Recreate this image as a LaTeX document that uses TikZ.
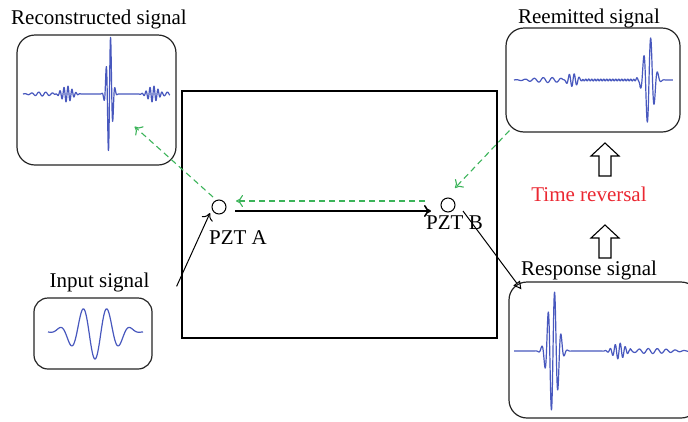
\documentclass[tikz,border=0pt]{standalone}
\usepackage{fontspec}
\setmainfont{Liberation Serif}
\usetikzlibrary{arrows.meta}
\definecolor{sigblue}{RGB}{72,88,190}
\definecolor{dgreen}{RGB}{60,180,90}
\definecolor{trred}{RGB}{235,40,50}
\begin{document}
\begin{tikzpicture}[x=1pt,y=-1pt,
  declare function={gw(\t,\s)=exp(-min((\t/\s)^2,20));
                    bu(\t,\p,\s)=sin((360/\p)*\t)*gw(\t,\s);},
  sigbox/.style={draw=black!85,line width=1.2pt,rounded corners=18pt,inner sep=0pt},
  sig/.style={sigblue,line width=1.2pt,line join=round},
  lbl/.style={font=\fontsize{21}{24}\selectfont,anchor=base,inner sep=0pt},
  pzt/.style={circle,draw,line width=1pt,minimum size=14pt,inner sep=0pt},
  blk/.style={line width=1pt,-{To[length=7pt,width=12pt]}},
  grn/.style={dgreen,line width=1.1pt,dash pattern=on 6pt off 4pt,-{To[length=7pt,width=12pt]}},
  blockarrow/.style={draw,line width=1.1pt,fill=white}]
\clip (0,0) rectangle (688,421);
\fill[white] (0,0) rectangle (688,421);
% main plate
\node[draw,line width=1.2pt,minimum width=315pt,minimum height=247pt,inner sep=0pt] (plate) at (339.5,214.5) {};
% signal boxes
\node[sigbox,minimum width=159pt,minimum height=130pt] (rec) at (96.5,100) {};
\node[sigbox,minimum width=174pt,minimum height=104pt] (rem) at (593,80) {};
\node[sigbox,minimum width=190pt,minimum height=136pt] (resp) at (604,350) {};
\node[sigbox,minimum width=118pt,minimum height=71pt,rounded corners=14pt] (inp) at (93,333.5) {};
% titles
\node[lbl] (recT) at (99,24) {Reconstructed signal};
\node[lbl] (remT) at (589,23) {Reemitted signal};
\node[lbl] (respT) at (589,275) {Response signal};
\node[lbl] (inpT) at (99.5,287) {Input signal};
\node[lbl,text=trred] (trT) at (589,201) {Time reversal};
% PZTs
\node[pzt] (pztA) at (219,207) {};
\node[pzt] (pztB) at (448,205) {};
\node[lbl] (labA) at (238,244) {PZT A};
\node[lbl] (labB) at (454.5,229) {PZT B};
% waveforms
\draw[sig] plot[domain=48:143,samples=200] (\x,{332+27*cos(15*(\x-95))*0.5*(1+cos(3.75*(\x-95)))});
\draw[sig] plot[domain=23:170,samples=1000] (\x,{94-(2*sin(51.43*(\x-23))*gw(\x-42,13)+8*bu(\x-67,4,7)+62*bu(\x-109.5,4.5,3.6)+8*bu(\x-153,4,7)+2*sin(60*(\x-160))*gw(\x-167,4))});
\draw[sig] plot[domain=514:673,samples=1000] (\x,{80-(2.5*sin(40*(\x-514))*gw(\x-548,22)+7*bu(\x-573,5,6)+0.9*sin(120*(\x-582))*(\x>582)*(\x<640)+45*bu(\x-649,7,6.5))});
\draw[sig] plot[domain=514:688,samples=1000] (\x,{351-(62*bu(\x-553,6.5,7)+8*bu(\x-619,5,8)+2.5*sin(40*(\x-628))*gw(\x-652,25)*(\x>630))});
% connectors
\draw[blk] ([shift={(24,-11)}]inp.north east) -- ([shift={(-9,6)}]pztA.center);
\draw[blk,line width=1.6pt] ([shift={(16,4)}]pztA.center) -- ([shift={(-17,6)}]pztB.center);
\draw[line width=1pt,-{Triangle[open,length=8pt,width=8pt]}] ([shift={(15,6)}]pztB.center) -- ([shift={(13,8)}]resp.north west);
\draw[grn] ([shift={(-23,-4)}]pztB.center) -- ([shift={(17,-6)}]pztA.center);
\draw[grn] ([shift={(4,-2)}]rem.south west) -- ([shift={(7,-17)}]pztB.center);
\draw[grn] ([shift={(-6,-10)}]pztA.center) -- ([shift={(-42,-39)}]rec.south east);
% hollow block arrows
\draw[blockarrow] (605,143) -- (619,156) -- (611,156) -- (611,176) -- (599,176) -- (599,156) -- (591,156) -- cycle;
\draw[blockarrow] (605,225) -- (619,238) -- (611,238) -- (611,258) -- (599,258) -- (599,238) -- (591,238) -- cycle;
\end{tikzpicture}
\end{document}
